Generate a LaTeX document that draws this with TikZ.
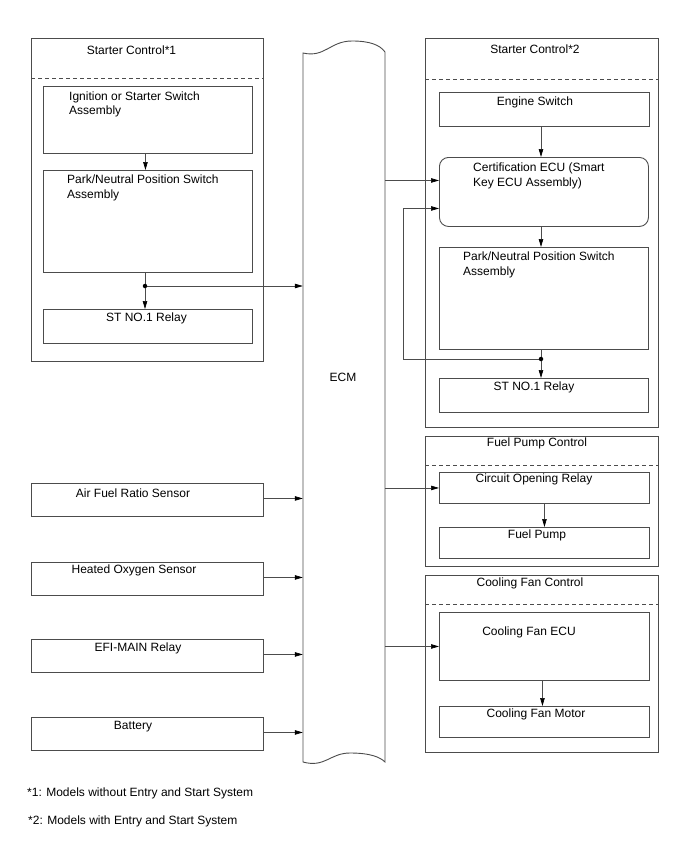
\documentclass[tikz,border=0pt]{standalone}
\usepackage{fontspec}
\setmainfont{Liberation Sans}
\usetikzlibrary{arrows.meta}
\definecolor{ln}{gray}{0.3}
\begin{document}
\begin{tikzpicture}[x=1pt,y=-1pt,
  box/.style={draw=ln, line width=0.9pt, inner sep=0pt, anchor=north west},
  txt/.style={font=\fontsize{12}{14.5}\selectfont, inner sep=0pt, text=black},
  arr/.style={draw=ln, line width=0.7pt, -{Triangle[length=8pt,width=4.5pt,color=black]}},
  lnk/.style={draw=ln, line width=0.7pt},
  dsh/.style={draw=ln, line width=0.8pt, dash pattern=on 4pt off 3pt},
  jdot/.style={circle, fill=black, inner sep=0pt, minimum size=4.5pt}]
\useasboundingbox (0,0) rectangle (688,852);
% group boxes
\node[box, minimum width=232pt, minimum height=323pt] (sc1) at (31,38) {};
\node[box, minimum width=233pt, minimum height=389pt] (sc2) at (425,38) {};
\node[box, minimum width=233pt, minimum height=130pt] (fp) at (425,436) {};
\node[box, minimum width=233pt, minimum height=177pt] (cf) at (425,575) {};
\draw[dsh] ([yshift=-40pt]sc1.north west) -- ([yshift=-40pt]sc1.north east);
\draw[dsh] ([yshift=-41pt]sc2.north west) -- ([yshift=-41pt]sc2.north east);
\draw[dsh] ([yshift=-29pt]fp.north west) -- ([yshift=-29pt]fp.north east);
\draw[dsh] ([yshift=-29pt]cf.north west) -- ([yshift=-29pt]cf.north east);
\node[txt] (t1) at (131.5,50) {Starter Control*1};
\node[txt] (t2) at (535,49) {Starter Control*2};
\node[txt] (t3) at (537,443) {Fuel Pump Control};
\node[txt] (t4) at (530,583) {Cooling Fan Control};
% inner boxes left
\node[box, minimum width=209pt, minimum height=67pt] (ign) at (43,86) {};
\node[box, minimum width=209pt, minimum height=102pt] (park1) at (43,170) {};
\node[box, minimum width=209pt, minimum height=34pt] (st1) at (43,309) {};
\node[txt, anchor=west, align=left] (ignt) at (69,104.5) {Ignition or Starter Switch\\Assembly};
\node[txt, anchor=west, align=left] (park1t) at (67,188) {Park/Neutral Position Switch\\Assembly};
\node[txt] (st1t) at (146.5,318) {ST NO.1 Relay};
% inner boxes right
\node[box, minimum width=210pt, minimum height=34pt] (eng) at (439,92) {};
\node[box, minimum width=209pt, minimum height=69pt, rounded corners=9pt] (ecu) at (439,157) {};
\node[box, minimum width=209pt, minimum height=102pt] (park2) at (439,247) {};
\node[box, minimum width=209pt, minimum height=34pt] (st2) at (439,378) {};
\node[box, minimum width=210pt, minimum height=31pt] (cor) at (439,472) {};
\node[box, minimum width=210pt, minimum height=31pt] (fpump) at (439,527) {};
\node[box, minimum width=210pt, minimum height=68pt] (cfecu) at (439,612) {};
\node[box, minimum width=210pt, minimum height=31pt] (cfm) at (439,706) {};
\node[txt] (engt) at (535,102) {Engine Switch};
\node[txt, anchor=west, align=left] (ecut) at (473,176) {Certification ECU (Smart\\Key ECU Assembly)};
\node[txt, anchor=west, align=left] (park2t) at (463,265) {Park/Neutral Position Switch\\Assembly};
\node[txt] (st2t) at (534,387) {ST NO.1 Relay};
\node[txt] (cort) at (534,479) {Circuit Opening Relay};
\node[txt] (fpt) at (537,535) {Fuel Pump};
\node[txt] (cfecut) at (529,632) {Cooling Fan ECU};
\node[txt] (cfmt) at (536,714) {Cooling Fan Motor};
% left sensor boxes
\node[box, minimum width=232pt, minimum height=33pt] (afr) at (31,483) {};
\node[box, minimum width=232pt, minimum height=33pt] (hos) at (31,562) {};
\node[box, minimum width=232pt, minimum height=33pt] (efi) at (31,639) {};
\node[box, minimum width=232pt, minimum height=33pt] (bat) at (31,717) {};
\node[txt] (afrt) at (133,493) {Air Fuel Ratio Sensor};
\node[txt] (host) at (134,570) {Heated Oxygen Sensor};
\node[txt] (efit) at (138,648) {EFI-MAIN Relay};
\node[txt] (batt) at (133,727) {Battery};
% ECM
\node[inner sep=0pt, minimum width=82pt, minimum height=709pt] (ecm) at (344,407.5) {};
\draw[draw=ln, line width=0.9pt] (303,53) .. controls (325,58) and (330,41) .. (352,41)
  .. controls (370,41) and (380,45) .. (385,52) -- (385,762)
  .. controls (380,757) and (370,753) .. (350,753)
  .. controls (330,753) and (325,768) .. (303,762) -- cycle;
\node[txt] (ecmt) at (343,377) {ECM};
% connectors left
\draw[arr] ([xshift=-2.5pt]ign.south) -- ([xshift=-2.5pt]park1.north);
\coordinate (j1) at (145,286);
\draw[lnk] (park1.south -| j1) -- (j1);
\draw[arr] (j1) -- (st1.north -| j1);
\draw[arr] (j1) -- (j1 -| ecm.west);
\node[jdot] at (j1) {};
\draw[arr] ([yshift=1.5pt]afr.east) -- ([yshift=1.5pt]afr.east -| ecm.west);
\draw[arr] ([yshift=1.5pt]hos.east) -- ([yshift=1.5pt]hos.east -| ecm.west);
\draw[arr] ([yshift=1.5pt]efi.east) -- ([yshift=1.5pt]efi.east -| ecm.west);
\draw[arr] ([yshift=1.5pt]bat.east) -- ([yshift=1.5pt]bat.east -| ecm.west);
% connectors right
\coordinate (j2) at (541,359);
\coordinate (lp) at (403,359);
\coordinate (ecuin) at ([yshift=11.5pt]ecu.west);
\coordinate (ecufb) at ([yshift=-16.5pt]ecu.west);
\draw[arr] (eng.south -| j2) -- (ecu.north -| j2);
\draw[arr] (ecuin -| ecm.east) -- (ecuin);
\draw[arr] (ecu.south -| j2) -- (park2.north -| j2);
\draw[lnk] (park2.south -| j2) -- (j2);
\draw[arr] (j2) -- (st2.north -| j2);
\draw[arr] (j2) -- (lp) -- (lp |- ecufb) -- (ecufb);
\node[jdot] at (j2) {};
\draw[arr] (cor.west -| ecm.east) -- (cor.west);
\draw[arr] (cor.south) -- (fpump.north);
\draw[arr] (cfecu.west -| ecm.east) -- (cfecu.west);
\draw[arr] ([xshift=-2pt]cfecu.south) -- ([xshift=-2pt]cfm.north);
% footnotes
\node[txt, anchor=west] (n1) at (27,793) {*1: Models without Entry and Start System};
\node[txt, anchor=west] (n2) at (28,821) {*2: Models with Entry and Start System};
\end{tikzpicture}
\end{document}
